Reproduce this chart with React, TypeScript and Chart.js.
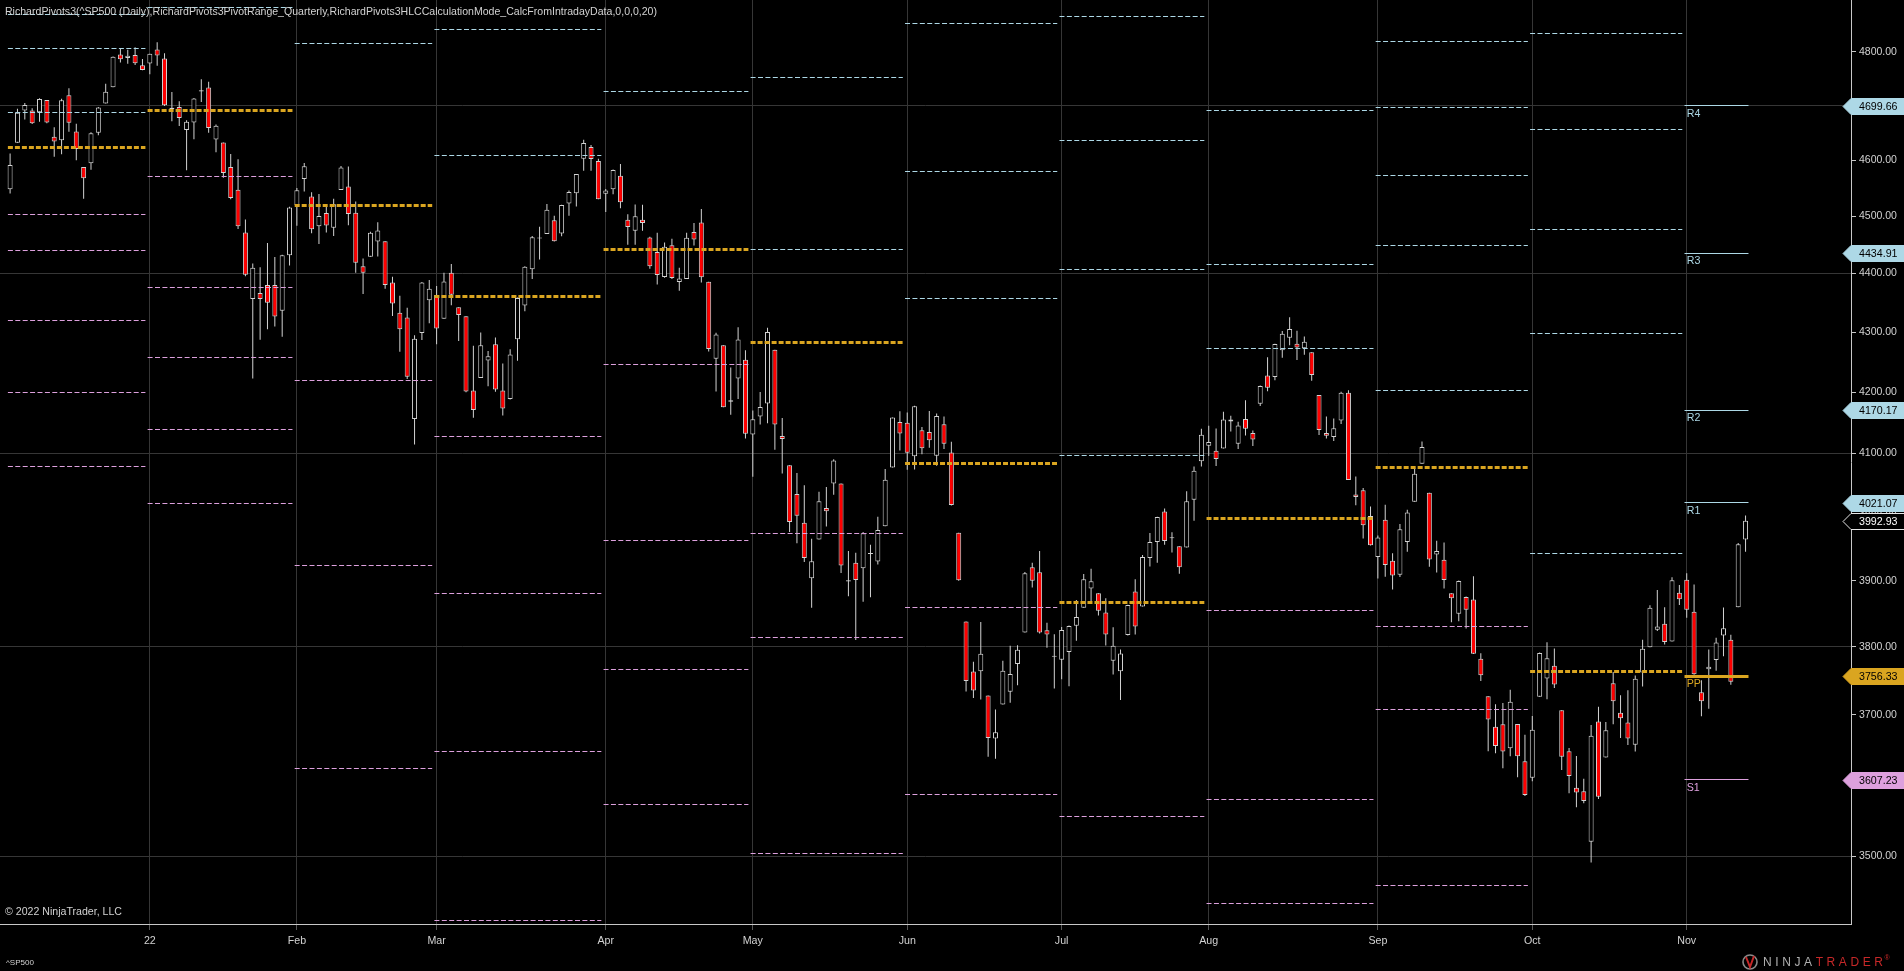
import React, { useEffect, useRef } from "react";
import { Chart, registerables } from "chart.js";

Chart.register(...registerables);

// ---------------- DATA (S&P 500 daily, 6 Dec 2021 .. 11 Nov 2022) ----------------
const OPEN: number[] = [
  4548.37, 4631.97, 4690.86, 4691.0, 4687.64, 4710.3, 4642.99, 4636.46, 4719.13, 4652.5, 4587.9, 4594.96, 4650.36, 4703.96, 4733.99, 4795.49, 4788.64, 4794.23, 4775.21,
  4778.14, 4804.51, 4787.99, 4693.39, 4697.66, 4655.34, 4669.14, 4728.59, 4733.56, 4637.99, 4632.24, 4588.03, 4547.35, 4471.38, 4356.32, 4366.64, 4380.58, 4380.58, 4336.19, 4431.79,
  4519.57, 4566.39, 4535.41, 4482.79, 4505.75, 4480.02, 4547.0, 4553.24, 4506.27, 4412.61, 4429.28, 4455.75, 4456.06, 4384.57, 4332.74, 4324.93, 4155.77, 4298.38, 4354.17,
  4363.14, 4322.56, 4401.31, 4342.12, 4327.01, 4202.66, 4223.1, 4252.55, 4279.5, 4202.75, 4188.82, 4288.14, 4345.11, 4407.34, 4462.4, 4469.1, 4493.1, 4469.98, 4522.91, 4541.09, 4602.86, 4624.2, 4599.02,
  4540.32, 4547.97, 4572.45, 4494.17, 4474.65, 4494.15, 4462.64, 4437.59, 4394.3, 4449.12, 4385.63, 4390.63, 4472.26, 4489.17, 4385.83, 4255.34, 4278.14, 4186.52, 4222.58, 4253.75,
  4130.61, 4159.78, 4181.18, 4270.43, 4128.17, 4081.27, 4035.18, 3990.08, 3903.95, 3963.9, 4013.02, 4052.0, 4051.98, 3899.0, 3927.76, 3919.42, 3942.94, 3929.59, 3984.6, 4077.43, 4151.09,
  4149.78, 4095.41, 4137.57, 4134.72, 4096.47, 4147.12, 4101.65, 3974.39, 3838.15, 3763.52, 3764.05, 3728.18, 3665.9, 3715.31, 3733.89, 3774.71, 3821.75, 3920.76, 3913.0, 3825.09, 3785.99,
  3781.0, 3792.61, 3831.98, 3858.85, 3888.26, 3880.94, 3851.95, 3779.67, 3763.99, 3818.0, 3883.79, 3860.73, 3935.32, 3959.96, 4007.66, 3965.72, 3953.22, 3951.43, 4026.13, 4087.33,
  4112.38, 4104.21, 4107.96, 4154.85, 4115.87, 4155.93, 4133.11, 4181.02, 4227.4, 4225.02, 4269.37, 4290.46, 4280.4, 4273.13, 4266.31, 4195.08, 4133.09, 4126.55, 4153.26, 4198.74, 4034.58, 4041.25, 4000.67,
  3936.73, 3994.66, 3930.89, 3909.43, 3959.94, 4022.94, 4083.67, 4037.12, 3940.73, 3932.41, 3880.95, 3849.91, 3875.23, 3871.4, 3782.36, 3727.14, 3682.72, 3686.44, 3651.94, 3687.01, 3633.48,
  3609.78, 3726.46, 3753.25, 3771.97, 3706.74, 3647.51, 3595.86, 3590.83, 3520.37, 3690.41, 3638.65, 3746.26, 3703.11, 3689.05, 3657.1, 3762.01, 3799.44, 3825.97, 3834.69, 3808.26, 3881.85,
  3901.79, 3852.9, 3733.25, 3766.98, 3780.71, 3817.02, 3810.94, 3859.89, 3963.72,
];

const HIGH: number[] = [
  4612.6, 4694.04, 4705.06, 4695.26, 4713.57, 4710.3, 4660.47, 4712.6, 4731.99, 4666.7, 4587.9, 4651.14, 4697.67, 4740.74, 4791.49, 4807.02, 4804.06, 4808.93, 4786.83,
  4796.64, 4818.62, 4797.7, 4725.01, 4707.95, 4673.02, 4714.13, 4748.83, 4744.13, 4665.13, 4632.24, 4611.55, 4602.11, 4494.52, 4417.35, 4411.01, 4453.23, 4428.74, 4432.72, 4516.89,
  4550.49, 4595.31, 4542.88, 4539.66, 4521.86, 4531.32, 4590.03, 4588.92, 4526.33, 4426.22, 4472.77, 4489.55, 4456.06, 4394.6, 4362.12, 4341.51, 4294.73, 4385.34, 4388.84,
  4378.45, 4401.48, 4416.78, 4342.12, 4327.01, 4276.94, 4299.4, 4268.28, 4291.01, 4247.57, 4271.05, 4358.9, 4412.67, 4465.4, 4481.75, 4522.0, 4501.07, 4520.58, 4546.03, 4575.65, 4637.3, 4627.77, 4603.07,
  4548.7, 4583.5, 4593.45, 4503.94, 4521.16, 4520.41, 4464.35, 4471.0, 4453.92, 4460.46, 4410.31, 4471.03, 4488.29, 4512.94, 4385.83, 4299.02, 4278.14, 4240.71, 4308.45, 4269.68,
  4169.81, 4200.1, 4307.66, 4270.43, 4157.69, 4081.27, 4068.82, 4049.09, 3964.8, 4038.88, 4046.46, 4090.72, 4051.98, 3945.96, 3943.42, 3975.45, 3955.68, 3999.33, 4075.14, 4158.49, 4168.34,
  4166.54, 4177.51, 4142.67, 4168.78, 4164.86, 4160.14, 4119.1, 3974.39, 3838.15, 3778.18, 3837.56, 3728.18, 3707.71, 3779.65, 3801.79, 3802.58, 3913.65, 3927.72, 3945.86, 3836.5, 3818.99,
  3829.82, 3832.19, 3870.91, 3910.63, 3918.5, 3880.94, 3873.41, 3829.44, 3796.41, 3863.62, 3902.44, 3939.81, 3974.13, 3999.29, 4012.44, 3975.3, 3953.22, 4039.56, 4078.95, 4140.15,
  4144.95, 4140.47, 4167.66, 4161.29, 4151.58, 4186.62, 4137.3, 4211.03, 4257.91, 4280.47, 4301.79, 4325.28, 4302.18, 4292.53, 4266.31, 4195.08, 4159.77, 4156.56, 4200.54, 4203.04, 4062.99, 4044.98, 4015.37,
  3970.23, 4018.43, 3942.55, 3987.89, 4010.5, 4076.81, 4119.28, 4037.12, 3961.94, 3959.14, 3880.95, 3900.45, 3876.01, 3907.07, 3790.8, 3727.14, 3715.67, 3717.53, 3736.74, 3687.01, 3671.44,
  3698.35, 3791.92, 3806.91, 3797.93, 3706.74, 3652.17, 3640.66, 3608.34, 3685.41, 3712.0, 3689.73, 3762.79, 3728.58, 3736.0, 3757.89, 3810.74, 3862.85, 3886.15, 3859.95, 3905.42, 3893.73,
  3911.79, 3894.44, 3750.59, 3796.34, 3813.95, 3859.4, 3818.2, 3958.33, 4001.48,
];

const LOW: number[] = [
  4540.51, 4631.97, 4674.52, 4665.98, 4670.24, 4667.6, 4606.52, 4611.22, 4651.89, 4600.22, 4531.1, 4583.16, 4645.53, 4703.96, 4733.99, 4780.04, 4778.08, 4775.33, 4765.75,
  4758.17, 4774.27, 4699.44, 4671.26, 4662.74, 4582.24, 4638.27, 4706.71, 4650.29, 4614.75, 4568.7, 4530.2, 4477.95, 4395.34, 4222.62, 4287.11, 4304.8, 4309.5, 4292.46, 4414.02,
  4483.53, 4544.32, 4470.39, 4451.5, 4471.47, 4465.4, 4547.0, 4484.31, 4401.41, 4364.84, 4429.28, 4429.68, 4373.81, 4327.22, 4267.11, 4221.51, 4114.65, 4286.83, 4315.12,
  4279.54, 4322.56, 4345.56, 4284.98, 4199.85, 4157.87, 4223.1, 4209.8, 4200.49, 4161.72, 4187.9, 4251.99, 4335.65, 4390.57, 4424.3, 4469.1, 4455.81, 4465.17, 4501.07, 4517.69, 4581.18, 4581.32, 4530.41,
  4507.57, 4539.21, 4514.17, 4450.04, 4450.3, 4474.6, 4408.38, 4381.34, 4392.7, 4390.77, 4370.3, 4390.63, 4448.76, 4384.47, 4267.62, 4200.82, 4175.04, 4162.9, 4188.63, 4124.28,
  4062.51, 4147.08, 4148.91, 4106.01, 4067.91, 3975.48, 3958.17, 3928.82, 3858.87, 3963.9, 3983.99, 4033.93, 3911.91, 3876.58, 3810.32, 3868.03, 3875.13, 3925.03, 3984.6, 4077.43, 4104.88,
  4073.85, 4074.37, 4098.67, 4109.18, 4080.19, 4107.2, 4017.17, 3900.16, 3734.3, 3724.57, 3722.3, 3639.77, 3636.87, 3715.31, 3717.69, 3743.52, 3821.75, 3889.66, 3820.14, 3799.02, 3738.67,
  3752.1, 3742.06, 3809.37, 3858.85, 3869.34, 3847.22, 3802.36, 3759.07, 3721.56, 3817.18, 3818.63, 3860.73, 3922.03, 3927.64, 3955.77, 3943.46, 3910.74, 3951.43, 3992.97, 4079.22,
  4096.02, 4079.81, 4107.96, 4135.42, 4107.31, 4128.97, 4112.09, 4177.26, 4201.41, 4219.78, 4256.9, 4277.77, 4253.08, 4261.98, 4218.7, 4129.86, 4124.03, 4119.97, 4147.59, 4057.66, 4017.42, 3965.21, 3954.53,
  3903.65, 3906.21, 3886.75, 3906.03, 3944.81, 4022.94, 4083.67, 3921.65, 3912.91, 3888.28, 3837.08, 3838.5, 3827.54, 3789.49, 3749.45, 3647.47, 3644.76, 3623.29, 3640.61, 3610.4, 3584.13,
  3604.93, 3726.46, 3722.66, 3739.22, 3620.73, 3588.1, 3568.45, 3573.86, 3491.58, 3579.68, 3638.65, 3686.53, 3666.51, 3656.44, 3647.42, 3741.65, 3799.44, 3824.07, 3803.79, 3808.26, 3863.18,
  3843.8, 3758.68, 3698.15, 3708.84, 3764.7, 3786.28, 3744.22, 3859.89, 3944.82,
];

const CLOSE: number[] = [
  4591.67, 4686.75, 4701.21, 4667.45, 4712.02, 4668.97, 4634.09, 4709.85, 4668.67, 4620.64, 4568.02, 4649.23, 4696.56, 4725.79, 4791.19, 4786.35, 4793.06, 4778.73, 4766.18,
  4796.56, 4793.54, 4700.58, 4696.05, 4677.03, 4670.29, 4713.07, 4726.35, 4659.03, 4662.85, 4577.11, 4532.76, 4482.73, 4397.94, 4410.13, 4356.45, 4349.93, 4326.51, 4431.85, 4515.55,
  4546.54, 4589.38, 4477.44, 4500.53, 4483.87, 4521.54, 4587.18, 4504.08, 4418.64, 4401.67, 4471.07, 4475.01, 4380.26, 4348.87, 4304.76, 4225.5, 4288.7, 4384.65, 4373.94,
  4306.26, 4386.54, 4363.49, 4328.87, 4201.09, 4170.7, 4277.88, 4259.52, 4204.31, 4173.11, 4262.45, 4357.86, 4411.67, 4463.12, 4461.18, 4511.61, 4456.24, 4520.16, 4543.06, 4575.52, 4631.6, 4602.45, 4530.41,
  4545.86, 4582.64, 4525.12, 4481.15, 4500.21, 4488.28, 4412.53, 4397.45, 4446.59, 4392.59, 4391.69, 4462.21, 4459.45, 4393.66, 4271.78, 4296.12, 4175.2, 4183.96, 4287.5, 4131.93,
  4155.38, 4175.48, 4300.17, 4146.87, 4123.34, 3991.24, 4001.05, 3935.18, 3930.08, 4023.89, 4008.01, 4088.85, 3923.68, 3900.79, 3901.36, 3973.75, 3941.48, 3978.73, 4057.84, 4158.24, 4132.15,
  4101.23, 4176.82, 4108.54, 4121.43, 4160.68, 4115.77, 4017.82, 3900.86, 3749.63, 3735.48, 3789.99, 3666.77, 3674.84, 3764.79, 3759.89, 3795.73, 3911.74, 3900.11, 3821.55, 3818.83, 3785.38,
  3825.33, 3831.39, 3845.08, 3902.62, 3899.38, 3854.43, 3818.8, 3801.78, 3790.38, 3863.16, 3830.85, 3936.69, 3959.9, 3998.95, 3961.63, 3966.84, 3921.05, 4023.61, 4072.43, 4130.29,
  4118.63, 4091.19, 4155.17, 4151.94, 4145.19, 4140.06, 4122.47, 4210.24, 4207.27, 4280.15, 4297.14, 4305.2, 4274.04, 4283.74, 4228.48, 4137.99, 4128.73, 4140.77, 4199.12, 4057.66, 4030.61, 3986.16, 3955.0,
  3966.85, 3924.26, 3908.19, 3979.87, 4006.18, 4067.36, 4110.41, 3932.69, 3946.01, 3901.35, 3873.33, 3899.89, 3855.93, 3789.93, 3757.99, 3693.23, 3655.04, 3647.29, 3719.04, 3640.47, 3585.62,
  3678.43, 3790.93, 3783.28, 3744.52, 3639.66, 3612.39, 3588.84, 3577.03, 3669.91, 3583.07, 3677.95, 3719.98, 3695.16, 3665.78, 3752.75, 3797.34, 3859.11, 3830.6, 3807.3, 3901.06, 3871.98,
  3856.1, 3759.69, 3719.89, 3770.55, 3806.8, 3828.11, 3748.57, 3956.37, 3992.93,
];

// month gridlines / labels (bar index of first trading day of each month)
const MONTH_TICK_INDEX: number[] = [19, 39, 58, 81, 101, 122, 143, 163, 186, 207, 228];
const MONTH_TICK_LABELS: string[] = ["22", "Feb", "Mar", "Apr", "May", "Jun", "Jul", "Aug", "Sep", "Oct", "Nov"];

const PRICE_TICKS: number[] = [3500, 3600, 3700, 3800, 3900, 4000, 4100, 4200, 4300, 4400, 4500, 4600, 4700, 4800];
const PRICE_GRID: number[] = [3500, 3800, 4100, 4400, 4700];

// pivot segments (monthly), first/last bar index
const SEG_START: number[] = [0, 19, 39, 58, 81, 101, 122, 143, 163, 186, 207, 228];
const SEG_END: number[] = [18, 38, 57, 80, 100, 121, 142, 162, 185, 206, 227, 236];

const PIVOT_R5: (number | null)[] = [null, null, null, null, null, null, null, null, null, 4820.24, 4834.8, null];
const PIVOT_R4: (number | null)[] = [null, null, null, null, null, null, null, 4866.67, null, 4696.5, 4655.92, 4699.66];
const PIVOT_R3: (number | null)[] = [4871.05, null, null, null, null, null, 4853.78, 4636.95, 4691.69, 4572.76, 4477.04, 4434.91];
const PIVOT_R2: (number | null)[] = [4807.44, null, null, 4841.96, null, 4752.39, 4580.72, 4407.23, 4415.92, 4449.02, 4298.16, 4170.17];
const PIVOT_R1: (number | null)[] = [4687.22, 4885.04, 4815.24, 4607.95, 4725.85, 4442.16, 4356.44, 4096.31, 4273.1, 4202.01, 3941.89, 4021.07];
const PIVOT_PP: (number | null)[] = [4623.61, 4690.08, 4518.93, 4361.3, 4441.86, 4283.22, 4083.38, 3866.59, 3997.33, 4078.27, 3763.01, 3756.33];
const PIVOT_S1: (number | null)[] = [4503.39, 4571.23, 4219.24, 4127.29, 4246.42, 3972.99, 3859.1, 3555.67, 3854.51, 3831.26, null, 3607.23];
const PIVOT_S2: (number | null)[] = [4439.78, 4376.27, 3922.93, 3880.64, 3962.43, 3814.05, 3586.04, null, 3578.74, 3707.52, null, null];
const PIVOT_S3: (number | null)[] = [4319.56, 4257.42, 3623.24, 3646.63, 3766.99, 3503.82, null, null, 3435.92, 3460.51, null, null];
const PIVOT_S4: (number | null)[] = [4199.34, 4138.57, null, 3412.62, 3571.55, null, null, null, null, null, null, null];
const PIVOT_S5: (number | null)[] = [4079.12, 4019.72, null, null, null, null, null, null, null, null, null, null];

const TITLE_TEXT =
  "RichardPivots3(^SP500 (Daily),RichardPivots3PivotRange_Quarterly,RichardPivots3HLCCalculationMode_CalcFromIntradayData,0,0,0,20)";
const COPYRIGHT_TEXT = "© 2022 NinjaTrader, LLC";
const INSTRUMENT_TEXT = "^SP500";

// ---------------- LAYOUT / STYLE ----------------
const W = 1904;
const H = 971;
const Y_AXIS_W = 53;
const X_AXIS_H = 47;
const X_MIN = -1.3735;
const X_MAX = 250.34;
const Y_MIN = 3408.4;
const Y_MAX = 4899.0;

const FONT = '"Liberation Sans", Arial, sans-serif';
const C_GRID = "#363636";
const C_AXIS = "#c8c8c8";
const C_TEXT = "#d2d2d2";
const C_R = "#add8e6";
const C_PP = "#daa520";
const C_S = "#dda0dd";
const C_OUTLINE = "#d3d3d3";
const C_DOWN = "#ff0000";
const C_UP = "#000000";

type Level = { key: string; values: (number | null)[]; kind: "R" | "P" | "S" };
const LEVELS: Level[] = [
  { key: "R5", values: PIVOT_R5, kind: "R" },
  { key: "R4", values: PIVOT_R4, kind: "R" },
  { key: "R3", values: PIVOT_R3, kind: "R" },
  { key: "R2", values: PIVOT_R2, kind: "R" },
  { key: "R1", values: PIVOT_R1, kind: "R" },
  { key: "PP", values: PIVOT_PP, kind: "P" },
  { key: "S1", values: PIVOT_S1, kind: "S" },
  { key: "S2", values: PIVOT_S2, kind: "S" },
  { key: "S3", values: PIVOT_S3, kind: "S" },
  { key: "S4", values: PIVOT_S4, kind: "S" },
  { key: "S5", values: PIVOT_S5, kind: "S" },
];
const kindColor = (k: string) => (k === "R" ? C_R : k === "P" ? C_PP : C_S);

function fitText(ctx: CanvasRenderingContext2D, text: string, x: number, y: number, width: number) {
  const w = ctx.measureText(text).width;
  ctx.save();
  ctx.translate(x, y);
  ctx.scale(width / w, 1);
  ctx.fillText(text, 0, 0);
  ctx.restore();
}

function marker(ctx: CanvasRenderingContext2D, left: number, y: number, text: string, fill: string, stroke: string, textColor: string) {
  const h = 16;
  const tip = left - 8;
  ctx.beginPath();
  ctx.moveTo(tip, y);
  ctx.lineTo(left, y - h / 2);
  ctx.lineTo(W + 2, y - h / 2);
  ctx.lineTo(W + 2, y + h / 2);
  ctx.lineTo(left, y + h / 2);
  ctx.closePath();
  ctx.fillStyle = fill;
  ctx.fill();
  ctx.lineWidth = 1;
  ctx.strokeStyle = stroke;
  ctx.stroke();
  ctx.fillStyle = textColor;
  ctx.font = `10.67px ${FONT}`;
  ctx.textAlign = "left";
  ctx.textBaseline = "middle";
  ctx.fillText(text, left + 8, y + 0.5);
}

// aligns each horizontal pivot segment to the pixel grid (like Chart.js does for grid lines)
const snapPlugin = {
  id: "pivotSnap",
  beforeDatasetDraw(chart: any, args: any) {
    const ds = chart.data.datasets[args.index];
    if (!ds.pixelSnap) return;
    const pt = args.meta.data[0];
    if (!pt) return;
    const y = pt.y;
    const lw = ds.borderWidth;
    const target = lw % 2 === 1 ? Math.round(y - 0.5) + 0.5 : Math.round(y);
    chart.ctx.save();
    chart.ctx.translate(0, target - y);
    ds._snapped = true;
  },
  afterDatasetDraw(chart: any, args: any) {
    const ds = chart.data.datasets[args.index];
    if (ds._snapped) {
      chart.ctx.restore();
      ds._snapped = false;
    }
  },
};

const decorPlugin = {
  id: "ninjaDecor",
  afterDraw(chart: any) {
    const ctx: CanvasRenderingContext2D = chart.ctx;
    const ca = chart.chartArea;
    const xs = chart.scales.x;
    const ys = chart.scales.y;
    ctx.save();
    ctx.textAlign = "left";
    ctx.textBaseline = "alphabetic";

    ctx.fillStyle = C_TEXT;
    ctx.font = `10.67px ${FONT}`;
    fitText(ctx, TITLE_TEXT, 5, 14.7, 652);
    ctx.font = `10px ${FONT}`;
    fitText(ctx, COPYRIGHT_TEXT, 5, 915, 117);
    ctx.font = `8px ${FONT}`;
    fitText(ctx, INSTRUMENT_TEXT, 6, 965, 28);

    const cur = SEG_START.length - 1;
    const lx = xs.getPixelForValue(SEG_START[cur]);
    ctx.font = `10.67px ${FONT}`;
    LEVELS.forEach((lv) => {
      const v = lv.values[cur];
      if (v == null) return;
      const y = ys.getPixelForValue(v);
      if (y < ca.top || y > ca.bottom) return;
      ctx.fillStyle = kindColor(lv.kind);
      ctx.fillText(lv.key, lx, Math.round(y) + 11);
    });

    LEVELS.forEach((lv) => {
      const v = lv.values[cur];
      if (v == null) return;
      const y = ys.getPixelForValue(v);
      if (y < ca.top || y > ca.bottom) return;
      const c = kindColor(lv.kind);
      marker(ctx, ca.right, Math.round(y) + 0.5, v.toFixed(2), c, c, "#000000");
    });
    const last = CLOSE[CLOSE.length - 1];
    marker(ctx, ca.right, Math.round(ys.getPixelForValue(last)) + 0.5, last.toFixed(2), "#000000", "#e6e6e6", "#ffffff");

    // logo
    ctx.textBaseline = "alphabetic";
    ctx.font = `12px ${FONT}`;
    let x = 1763;
    const word = "NINJATRADER";
    for (let i = 0; i < word.length; i++) {
      ctx.fillStyle = i < 5 ? "#b0b0b0" : "#c62828";
      ctx.fillText(word[i], x, 966);
      x += ctx.measureText(word[i]).width + 3.6;
    }
    ctx.font = `7px ${FONT}`;
    ctx.fillStyle = "#c62828";
    ctx.fillText("®", x - 2, 960);
    ctx.lineWidth = 1.6;
    ctx.strokeStyle = "#8a8a8a";
    ctx.beginPath();
    ctx.arc(1750, 962, 7, 0, Math.PI * 2);
    ctx.stroke();
    ctx.strokeStyle = "#c62828";
    ctx.lineWidth = 2;
    ctx.beginPath();
    ctx.moveTo(1746, 957);
    ctx.lineTo(1750, 967);
    ctx.lineTo(1754, 956);
    ctx.stroke();
    ctx.restore();
  },
};

export default function App() {
  const ref = useRef<HTMLCanvasElement>(null);

  useEffect(() => {
    document.body.style.margin = "0";
    document.body.style.background = "#000";
    const n = CLOSE.length;
    const idx = Array.from({ length: n }, (_, i) => i);
    const cur = SEG_START.length - 1;

    const lineSets: any[] = [];
    LEVELS.forEach((lv) => {
      const color = kindColor(lv.kind);
      const isPP = lv.kind === "P";
      SEG_START.forEach((s, si) => {
        const v = lv.values[si];
        if (v == null) return;
        const solid = si === cur;
        lineSets.push({
          type: "line",
          data: [
            { x: s - 0.3, y: v },
            { x: SEG_END[si] + 0.4, y: v },
          ],
          borderColor: color,
          borderWidth: isPP ? 3 : 1,
          borderDash: solid ? [] : isPP ? [5, 2] : [5, 2.4],
          pointRadius: 0,
          fill: false,
          tension: 0,
          order: 0,
          pixelSnap: true,
        });
      });
    });

    const chart = new Chart(ref.current as HTMLCanvasElement, {
      type: "bar",
      data: {
        datasets: [
          {
            type: "bar",
            data: idx.map((i) => ({ x: i, y: [LOW[i], HIGH[i]] })) as any,
            backgroundColor: C_OUTLINE,
            borderWidth: 0,
            barThickness: 1,
            grouped: false,
            inflateAmount: 0,
            order: 2,
          } as any,
          {
            type: "bar",
            data: idx.map((i) => ({ x: i, y: [OPEN[i], CLOSE[i]] })) as any,
            backgroundColor: idx.map((i) => (CLOSE[i] >= OPEN[i] ? C_UP : C_DOWN)),
            borderColor: C_OUTLINE,
            borderWidth: 1,
            borderSkipped: false,
            barThickness: 5,
            minBarLength: 1,
            grouped: false,
            inflateAmount: 0,
            order: 1,
          } as any,
          ...lineSets,
        ],
      },
      options: {
        responsive: false,
        maintainAspectRatio: false,
        animation: false,
        devicePixelRatio: 1,
        events: [],
        layout: { padding: 0, autoPadding: false } as any,
        plugins: { legend: { display: false }, tooltip: { enabled: false }, title: { display: false } },
        scales: {
          x: {
            type: "linear",
            min: X_MIN,
            max: X_MAX,
            bounds: "data",
            offset: false,
            grid: { color: C_GRID, tickColor: "#555555", tickLength: 6, offset: false },
            border: { display: true, color: C_AXIS, width: 1 },
            ticks: {
              autoSkip: false,
              maxRotation: 0,
              minRotation: 0,
              color: C_TEXT,
              padding: 5,
              font: { family: FONT, size: 10.67 },
              callback: (_v: any, i: number) => MONTH_TICK_LABELS[i],
            },
            afterBuildTicks: (s: any) => {
              s.ticks = MONTH_TICK_INDEX.map((v) => ({ value: v }));
            },
            afterFit: (s: any) => {
              s.height = X_AXIS_H;
              s.paddingLeft = 0;
              s.paddingRight = 0;
            },
          } as any,
          y: {
            type: "logarithmic",
            position: "right",
            min: Y_MIN,
            max: Y_MAX,
            bounds: "data",
            grid: {
              color: (c: any) => (c.tick && PRICE_GRID.includes(c.tick.value) ? C_GRID : "rgba(0,0,0,0)"),
              tickColor: C_AXIS,
              tickLength: 5,
            },
            border: { display: true, color: C_AXIS, width: 1 },
            ticks: {
              autoSkip: false,
              color: C_TEXT,
              padding: 3,
              font: { family: FONT, size: 10.5 },
              callback: (v: any) => Number(v).toFixed(2),
            },
            afterBuildTicks: (s: any) => {
              s.ticks = PRICE_TICKS.map((v) => ({ value: v }));
            },
            afterFit: (s: any) => {
              s.width = Y_AXIS_W;
              s.paddingTop = 0;
              s.paddingBottom = 0;
            },
          } as any,
        },
      },
      plugins: [snapPlugin, decorPlugin],
    });
    return () => chart.destroy();
  }, []);

  return (
    <div style={{ position: "fixed", left: 0, top: 0, width: W, height: H, background: "#000" }}>
      <canvas ref={ref} width={W} height={H} style={{ display: "block", width: W, height: H }} />
    </div>
  );
}
